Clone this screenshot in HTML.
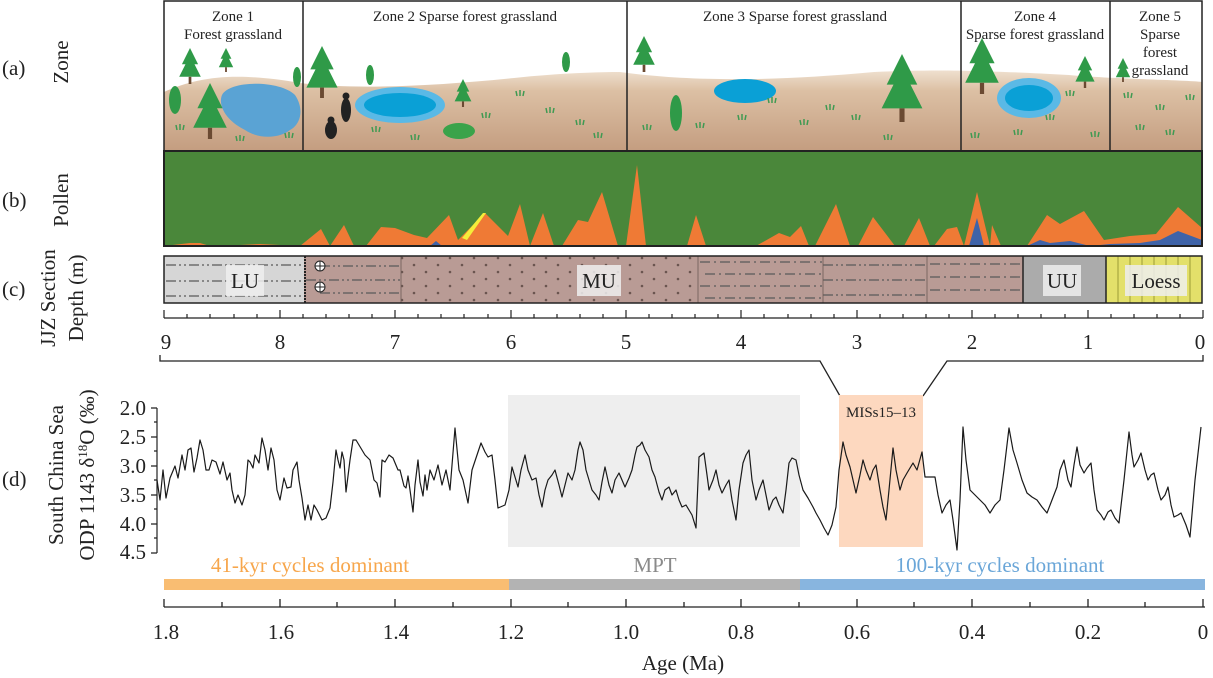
<!DOCTYPE html>
<html><head><meta charset="utf-8"><style>
body{margin:0;background:#fff;}
svg{display:block;font-family:"Liberation Serif",serif;}
</style></head><body>
<svg width="1213" height="678" viewBox="0 0 1213 678" xmlns="http://www.w3.org/2000/svg">
<defs>
<linearGradient id="gr" x1="0" y1="0" x2="0" y2="1">
<stop offset="0" stop-color="#efe0cf"/><stop offset="0.25" stop-color="#dcc0a4"/><stop offset="1" stop-color="#c49d80"/></linearGradient>
<pattern id="dots" width="24" height="14" patternUnits="userSpaceOnUse" x="0" y="262"><circle cx="6" cy="3" r="1.3" fill="#6b5550"/><circle cx="18" cy="10" r="1.3" fill="#6b5550"/></pattern>
<g id="tree"><polygon points="0,-30 -9,-12 -5,-12 -12,2 12,2 5,-12 9,-12" fill="#2f9a48"/><rect x="-1.5" y="2" width="3" height="8" fill="#6b4a32"/></g>
<g id="tuft"><path d="M-3,0 L-4,-5 M0,0 L0,-6 M3,0 L4,-5" stroke="#3f9a52" stroke-width="1.5" fill="none"/></g>
</defs>

<g font-size="21" fill="#222">
<text x="2" y="75">(a)</text>
<text x="2" y="207">(b)</text>
<text x="2" y="296">(c)</text>
<text x="2" y="486">(d)</text>
<text transform="translate(68,62) rotate(-90)" text-anchor="middle">Zone</text>
<text transform="translate(68,200) rotate(-90)" text-anchor="middle">Pollen</text>
<text transform="translate(55,298) rotate(-90)" text-anchor="middle">JJZ Section</text>
<text transform="translate(83,298) rotate(-90)" text-anchor="middle">Depth (m)</text>
<text transform="translate(63,475) rotate(-90)" text-anchor="middle">South China Sea</text>
<text transform="translate(94,475) rotate(-90)" text-anchor="middle">ODP 1143 δ<tspan font-size="13" dy="-7">18</tspan><tspan dy="7">O (‰)</tspan></text>
</g>

<rect x="164" y="1" width="1038" height="150" fill="#fff"/>
<path d="M164,92 C200,76 237,72 300,83 C356,90 435,86 514,78 C560,73 600,72 620,72 C678,80 756,83 874,72 C920,70 960,69 1069,75 C1112,79 1187,80 1202,82 L1202,151 L164,151 Z" fill="url(#gr)"/>
<path d="M222,95 C230,80 280,80 295,95 C305,110 300,125 290,130 C280,138 260,140 245,130 C225,120 218,105 222,95Z" fill="#5aa3d4"/>
<ellipse cx="400" cy="105" rx="45" ry="18" fill="#5ab9e6"/><ellipse cx="400" cy="105" rx="36" ry="12" fill="#0aa0d6"/>
<ellipse cx="745" cy="91" rx="31" ry="12" fill="#0aa0d6"/>
<ellipse cx="1029" cy="98" rx="32" ry="20" fill="#5ab9e6"/><ellipse cx="1029" cy="98" rx="24" ry="13" fill="#0aa0d6"/>
<ellipse cx="459" cy="131" rx="16" ry="8" fill="#3aa34a"/>
<use href="#tree" transform="translate(190,75) scale(0.9)"/>
<use href="#tree" transform="translate(226,66) scale(0.6)"/>
<use href="#tree" transform="translate(210,125) scale(1.4)"/>
<use href="#tree" transform="translate(322,85) scale(1.3)"/>
<use href="#tree" transform="translate(463,100) scale(0.7)"/>
<use href="#tree" transform="translate(644,63) scale(0.9)"/>
<use href="#tree" transform="translate(902,105) scale(1.7)"/>
<use href="#tree" transform="translate(982,80) scale(1.4)"/>
<use href="#tree" transform="translate(1085,80) scale(0.8)"/>
<use href="#tree" transform="translate(1123,76) scale(0.6)"/>
<ellipse cx="175" cy="100" rx="6" ry="14" fill="#2f9a48"/>
<ellipse cx="297" cy="77" rx="4" ry="10" fill="#2f9a48"/>
<ellipse cx="370" cy="75" rx="4" ry="10" fill="#2f9a48"/>
<ellipse cx="566" cy="62" rx="4" ry="10" fill="#2f9a48"/>
<ellipse cx="676" cy="113" rx="6" ry="18" fill="#2f9a48"/>
<ellipse cx="346" cy="110" rx="5" ry="12" fill="#222"/><circle cx="346" cy="96" r="3.5" fill="#222"/>
<ellipse cx="331" cy="130" rx="6" ry="9" fill="#222"/><circle cx="331" cy="120" r="3.5" fill="#222"/>
<g>
<use href="#tuft" transform="translate(180,130)"/><use href="#tuft" transform="translate(240,141)"/><use href="#tuft" transform="translate(289,138)"/>
<use href="#tuft" transform="translate(376,132)"/><use href="#tuft" transform="translate(415,140)"/><use href="#tuft" transform="translate(486,118)"/>
<use href="#tuft" transform="translate(520,96)"/><use href="#tuft" transform="translate(550,113)"/><use href="#tuft" transform="translate(580,125)"/><use href="#tuft" transform="translate(598,138)"/>
<use href="#tuft" transform="translate(647,130)"/><use href="#tuft" transform="translate(700,128)"/><use href="#tuft" transform="translate(742,120)"/><use href="#tuft" transform="translate(772,103)"/>
<use href="#tuft" transform="translate(804,125)"/><use href="#tuft" transform="translate(830,110)"/><use href="#tuft" transform="translate(856,120)"/><use href="#tuft" transform="translate(888,140)"/>
<use href="#tuft" transform="translate(975,138)"/><use href="#tuft" transform="translate(1018,135)"/><use href="#tuft" transform="translate(1050,120)"/><use href="#tuft" transform="translate(1070,96)"/><use href="#tuft" transform="translate(1095,137)"/>
<use href="#tuft" transform="translate(1128,98)"/><use href="#tuft" transform="translate(1160,110)"/><use href="#tuft" transform="translate(1190,100)"/><use href="#tuft" transform="translate(1170,135)"/><use href="#tuft" transform="translate(1140,130)"/>
</g>
<rect x="164" y="1" width="1038" height="150" fill="none" stroke="#222" stroke-width="1.5"/>
<g stroke="#222" stroke-width="1.5"><line x1="303" y1="1" x2="303" y2="151"/><line x1="627" y1="1" x2="627" y2="151"/><line x1="961" y1="1" x2="961" y2="151"/><line x1="1110" y1="1" x2="1110" y2="151"/></g>
<g font-size="15" fill="#222" text-anchor="middle">
<text x="233" y="21">Zone 1</text><text x="233" y="39">Forest grassland</text>
<text x="465" y="21">Zone 2 Sparse forest grassland</text>
<text x="795" y="21">Zone 3 Sparse  forest grassland</text>
<text x="1035" y="21">Zone 4</text><text x="1035" y="39">Sparse forest grassland</text>
<text x="1160" y="21">Zone 5</text><text x="1160" y="39">Sparse</text><text x="1160" y="57">forest</text><text x="1160" y="75">grassland</text>
</g>

<rect x="164" y="151" width="1038" height="95" fill="#4a873a"/>
<polygon fill="#ef7a35" points="164,246 190,243 200,243 210,246 240,245 260,244 300,246 321,229 330,246 344,225 354,246 366,246 381,227 395,228 414,235 427,238 449,215 458,240 485,213 508,236 520,204 530,246 543,213 554,246 562,246 578,220 588,222 602,192 618,246 626,246 637,165 646,246 687,246 696,215 706,246 756,246 779,233 790,237 801,226 809,246 815,246 836,204 850,246 858,246 873,217 895,246 904,246 919,218 930,246 934,246 947,229 957,227 964,246 977,192 990,246 992,225 1001,246 1027,246 1047,215 1060,224 1084,211 1104,240 1130,236 1156,234 1178,207 1202,228 1202,246"/>
<polygon fill="#f5ed3a" points="462,238 483,213 486,213 467,240"/>
<polygon fill="#3f63a8" points="430,246 436,241 442,246"/>
<polygon fill="#3f63a8" points="969,246 977,218 984,246"/>
<polygon fill="#3f63a8" points="1027,246 1040,240 1050,243 1070,241 1090,246 1110,244 1140,243 1160,240 1178,231 1202,240 1202,246"/>
<rect x="164" y="151" width="1038" height="95" fill="none" stroke="#222" stroke-width="2"/>

<rect x="164" y="256" width="140" height="47" fill="#d6d6d6"/>
<rect x="304" y="256" width="719" height="47" fill="#b99b95"/>
<rect x="401" y="256" width="297" height="47" fill="url(#dots)"/>
<rect x="1023" y="256" width="83" height="47" fill="#ababab"/>
<rect x="1106" y="256" width="96" height="47" fill="#e3e06a"/>
<g stroke="#8a8a2a" stroke-width="0.8">
<line x1="1118" y1="256" x2="1118" y2="303"/><line x1="1130" y1="256" x2="1130" y2="303"/><line x1="1142" y1="256" x2="1142" y2="303"/><line x1="1154" y1="256" x2="1154" y2="303"/><line x1="1166" y1="256" x2="1166" y2="303"/><line x1="1178" y1="256" x2="1178" y2="303"/><line x1="1190" y1="256" x2="1190" y2="303"/></g>
<g stroke="#5a5a5a" stroke-width="1.2" stroke-dasharray="10,3,2,3,2,3">
<line x1="166" y1="265" x2="302" y2="265"/><line x1="166" y1="281" x2="302" y2="281"/><line x1="166" y1="296" x2="302" y2="296"/>
<line x1="320" y1="266" x2="400" y2="266"/><line x1="306" y1="280" x2="400" y2="280"/><line x1="320" y1="293" x2="400" y2="293"/>
<line x1="823" y1="265" x2="927" y2="265"/><line x1="823" y1="280" x2="927" y2="280"/><line x1="823" y1="295" x2="927" y2="295"/>
</g>
<g stroke="#5a5a5a" stroke-width="1.2" stroke-dasharray="10,4,2,4">
<line x1="700" y1="262" x2="822" y2="262"/><line x1="705" y1="274" x2="822" y2="274"/><line x1="700" y1="286" x2="822" y2="286"/><line x1="705" y1="298" x2="822" y2="298"/>
<line x1="930" y1="264" x2="1022" y2="264"/><line x1="930" y1="277" x2="1022" y2="277"/><line x1="930" y1="290" x2="1022" y2="290"/>
</g>
<g stroke="#6b5a55" stroke-width="0.8"><line x1="401" y1="256" x2="401" y2="303"/><line x1="698" y1="256" x2="698" y2="303"/><line x1="823" y1="256" x2="823" y2="303"/><line x1="927" y1="256" x2="927" y2="303"/></g>
<g fill="#fff" stroke="#222" stroke-width="1"><circle cx="320" cy="266" r="5"/><circle cx="320" cy="287" r="5"/></g>
<g stroke="#222" stroke-width="1"><line x1="315" y1="266" x2="325" y2="266"/><line x1="320" y1="261" x2="320" y2="271"/><line x1="315" y1="287" x2="325" y2="287"/><line x1="320" y1="282" x2="320" y2="292"/></g>
<line x1="305" y1="256" x2="305" y2="303" stroke="#222" stroke-width="2" stroke-dasharray="2,1"/>
<g stroke="#222" stroke-width="1.5" fill="none"><rect x="164" y="256" width="1038" height="47"/><line x1="1023" y1="256" x2="1023" y2="303"/><line x1="1106" y1="256" x2="1106" y2="303"/></g>
<g fill="#eee" opacity="0.85"><rect x="226" y="265" width="38" height="31"/><rect x="577" y="265" width="44" height="31"/><rect x="1043" y="265" width="38" height="31"/><rect x="1125" y="265" width="62" height="31"/></g>
<g font-size="21" fill="#222" text-anchor="middle"><text x="245" y="288">LU</text><text x="599" y="288">MU</text><text x="1062" y="288">UU</text><text x="1156" y="288">Loess</text></g>

<g stroke="#222" stroke-width="1.3" fill="none">
<line x1="164" y1="318" x2="1203" y2="318"/>
<path d="M160,355 V361 H820 L840,396 M923,396 L947,361 H1203 V355"/>
</g>
<g stroke="#222" stroke-width="1.2">
<path d="M164,318V310M280,318V310M395,318V310M511,318V310M626,318V310M741,318V310M857,318V310M972,318V310M1088,318V310M1203,318V310"/>
<path d="M187,318V314M210,318V314M234,318V314M257,318V314M303,318V314M326,318V314M349,318V314M372,318V314M418,318V314M441,318V314M464,318V314M488,318V314M534,318V314M557,318V314M580,318V314M603,318V314M649,318V314M672,318V314M695,318V314M718,318V314M764,318V314M788,318V314M811,318V314M834,318V314M880,318V314M903,318V314M926,318V314M949,318V314M995,318V314M1018,318V314M1041,318V314M1065,318V314M1111,318V314M1134,318V314M1157,318V314M1180,318V314"/>
</g>
<g font-size="21" fill="#222" text-anchor="middle">
<text x="166" y="349">9</text><text x="280" y="349">8</text><text x="395" y="349">7</text><text x="511" y="349">6</text><text x="626" y="349">5</text><text x="741" y="349">4</text><text x="857" y="349">3</text><text x="972" y="349">2</text><text x="1088" y="349">1</text><text x="1200" y="349">0</text>
</g>

<rect x="508" y="395" width="292" height="152" fill="#eeeeee"/>
<rect x="839" y="395" width="84" height="152" fill="#fdd8bf"/>
<text x="881" y="417" font-size="15" fill="#222" text-anchor="middle">MISs15–13</text>
<g stroke="#222" stroke-width="1.2">
<line x1="157" y1="408" x2="157" y2="553"/>
<path d="M151,408H157M151,437H157M151,466H157M151,495H157M151,524H157M151,553H157"/>
<path d="M154,422H157M154,451H157M154,480H157M154,509H157M154,538H157"/>
</g>
<g font-size="21" fill="#222" text-anchor="end">
<text x="146" y="415">2.0</text><text x="146" y="444">2.5</text><text x="146" y="473">3.0</text><text x="146" y="502">3.5</text><text x="146" y="531">4.0</text><text x="146" y="559">4.5</text>
</g>
<polyline fill="none" stroke="#1a1a1a" stroke-width="1.2" stroke-linejoin="round" points="157,480 160,500 163,470 166,498 170,478 175,466 178,478 182,455 185,470 188,450 191,448 194,472 197,458 200,440 203,450 206,470 209,470 212,460 216,462 220,474 223,462 227,480 230,473 232,490 235,503 238,495 242,505 245,495 248,460 250,462 253,468 255,455 259,463 262,438 265,450 268,470 271,448 274,460 277,490 280,500 284,478 287,488 291,487 293,470 297,462 299,480 302,498 305,520 308,505 311,520 314,505 317,510 322,520 326,518 330,508 333,482 336,450 338,460 340,468 342,452 344,460 346,492 350,460 353,440 356,440 359,445 362,450 365,455 370,460 374,480 377,483 380,497 382,460 385,462 389,455 393,458 398,470 400,470 404,486 406,488 408,476 410,490 413,512 415,485 418,460 420,482 423,496 425,475 427,490 430,470 434,480 438,465 442,485 446,470 450,490 455,428 459,470 463,480 468,503 472,470 477,455 481,443 485,452 488,457 492,455 495,480 498,508 505,505 509,490 512,467 518,487 521,470 525,455 528,470 532,480 536,478 539,495 542,507 545,490 548,480 552,475 555,470 559,485 562,497 565,485 568,473 572,480 575,470 578,450 580,442 583,450 586,470 589,480 592,490 596,495 599,500 602,482 605,467 609,485 612,493 615,480 619,473 622,480 625,487 629,478 632,470 635,455 637,447 640,445 642,442 645,450 649,457 652,470 655,477 659,492 662,500 665,490 669,487 672,495 676,490 679,500 682,507 686,505 689,510 692,515 696,528 699,457 704,453 707,475 709,490 713,480 716,470 719,485 722,493 726,485 729,480 732,500 736,520 739,490 743,463 746,455 749,450 752,480 756,500 759,490 763,480 766,495 769,510 773,500 776,497 779,505 783,513 786,490 789,463 792,458 796,460 799,475 803,490 808,498 813,507 816,513 820,520 824,528 828,535 832,525 836,507 839,470 843,442 846,455 850,467 853,480 856,493 860,475 863,460 866,470 870,480 873,470 876,465 880,490 883,507 886,520 889,490 893,448 896,470 900,490 903,480 907,473 910,468 913,463 917,470 922,452 925,477 935,477 938,495 942,513 946,505 950,500 953,520 957,550 960,500 963,427 966,460 970,490 975,495 980,500 985,505 990,513 995,505 1000,500 1004,470 1009,428 1013,450 1017,463 1022,480 1027,493 1032,497 1037,500 1042,507 1047,513 1052,500 1057,487 1060,470 1064,460 1068,480 1071,487 1074,465 1077,447 1080,465 1084,473 1087,468 1091,463 1094,490 1097,510 1101,515 1104,520 1108,512 1111,510 1115,518 1119,523 1124,480 1129,432 1132,455 1134,467 1138,460 1141,453 1145,470 1148,480 1151,475 1154,473 1158,490 1161,500 1165,495 1168,487 1171,505 1174,517 1178,515 1181,513 1186,525 1190,537 1195,480 1201,427"/>

<g font-size="21" text-anchor="middle">
<text x="310" y="572" fill="#f7a64b">41-kyr cycles dominant</text>
<text x="655" y="572" fill="#8a8a8a">MPT</text>
<text x="1000" y="572" fill="#6aa6d8">100-kyr cycles dominant</text>
</g>
<rect x="164" y="579" width="345" height="11" fill="#f9bd72"/>
<rect x="509" y="579" width="291" height="11" fill="#b3b3b3"/>
<rect x="800" y="579" width="405" height="11" fill="#88b5df"/>

<g stroke="#222" stroke-width="1.3">
<line x1="164" y1="607" x2="1205" y2="607"/>
<path d="M164,607V599M280,607V599M395,607V599M511,607V599M626,607V599M741,607V599M857,607V599M972,607V599M1088,607V599M1203,607V599"/>
<path d="M222,607V602M337,607V602M453,607V602M568,607V602M684,607V602M799,607V602M914,607V602M1030,607V602M1145,607V602"/>
</g>
<g font-size="21" fill="#222" text-anchor="middle">
<text x="166" y="639">1.8</text><text x="281" y="639">1.6</text><text x="396" y="639">1.4</text><text x="511" y="639">1.2</text><text x="626" y="639">1.0</text><text x="741" y="639">0.8</text><text x="857" y="639">0.6</text><text x="972" y="639">0.4</text><text x="1088" y="639">0.2</text><text x="1203" y="639">0</text>
<text x="683" y="670">Age (Ma)</text>
</g>
</svg>
</body></html>
